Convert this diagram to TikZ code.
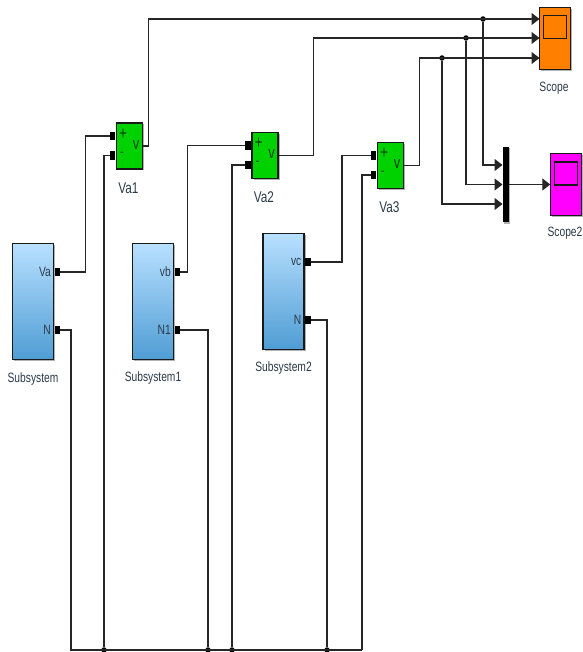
\documentclass[tikz,border=0pt]{standalone}
\usepackage{fontspec}
\usetikzlibrary{arrows.meta,shadows}
\newfontfamily\blockfont[FakeStretch=0.76]{Liberation Sans}
\definecolor{subtop}{HTML}{B8E0FF}
\definecolor{subbot}{HTML}{4F9DD4}
\definecolor{voltgreen}{HTML}{00D200}
\definecolor{scopeorange}{HTML}{FF8000}
\definecolor{scopepink}{HTML}{FF00FF}
\definecolor{inktext}{HTML}{2A3A48}
\tikzset{
    shadowed/.style={drop shadow={shadow xshift=1.5pt,shadow yshift=-1.5pt,opacity=0.3,fill=black}},
    subsys/.style={draw=black!90, line width=1.4pt, top color=subtop, bottom color=subbot, minimum width=41pt, minimum height=116pt, inner sep=0pt, shadowed},
    volt/.style={draw=black!90, line width=1.4pt, fill=voltgreen, minimum width=26pt, minimum height=46pt, inner sep=0pt, shadowed},
    scopebox/.style={draw=black!90, line width=1.4pt, minimum width=31pt, minimum height=62pt, inner sep=0pt, shadowed},
    screen/.style={draw=black!90, line width=1.2pt, minimum width=23pt, minimum height=23pt, inner sep=0pt},
    port/.style={fill=black, minimum width=5.5pt, minimum height=8.5pt, inner sep=0pt},
    dot/.style={circle, fill=black, minimum size=5.5pt, inner sep=0pt},
    wire/.style={draw=black!85, line width=1.2pt},
    feed/.style={wire, -{Triangle[length=8pt,width=12pt]}, shorten >=-0.5pt},
    caption/.style={font=\blockfont\fontsize{13.5}{13.5}\selectfont, text=inktext, inner sep=0pt},
    bigcaption/.style={font=\blockfont\fontsize{15.5}{15.5}\selectfont, text=inktext, inner sep=0pt},
    sign/.style={font=\blockfont\fontsize{14}{14}\selectfont, text=black!70!voltgreen, inner sep=0pt}
}
\begin{document}
\begin{tikzpicture}[x=1pt, y=-1pt]
    \useasboundingbox (0,0) rectangle (582,652);

    % subsystems
    \foreach \n/\x/\y/\top/\bot/\lab/\ty in {0/33/301.5/Va/N/Subsystem/379, 1/153/301.5/vb/N1/Subsystem1/378, 2/283.5/291.5/vc/N/Subsystem2/368} {
        \node[subsys] (sub\n) at (\x,\y) {};
        \node[port] (out\n) at (\x+24.5,\y-29.5) {};
        \node[port] (neu\n) at (\x+24.5,\y+28.5) {};
        \node[caption, anchor=east] (outlab\n) at (\x+18,\y-29.5) {\top};
        \node[caption, anchor=east] (neulab\n) at (\x+18,\y+28.5) {\bot};
        \node[caption] (subcap\n) at (\x,\ty) {\lab};
    }

    % voltage measurements
    \foreach \n/\x/\y/\lab in {1/129.5/146/Va1, 2/265/155.5/Va2, 3/390.5/165.5/Va3} {
        \node[volt] (m\n) at (\x,\y) {};
        \node[port] (plus\n) at (\x-17,\y-10) {};
        \node[port] (minus\n) at (\x-17,\y+9.5) {};
        \node[sign] (ps\n) at (\x-6.5,\y-12) {\fontsize{18}{18}\selectfont +};
        \node[sign] (ms\n) at (\x-7.5,\y+8) {-};
        \node[sign] (vs\n) at (\x+6.5,\y-1) {\fontsize{17}{17}\selectfont v};
        \node[bigcaption] (mcap\n) at (\x-1,\y+42) {\lab};
    }

    % scopes
    \node[scopebox, fill=scopeorange] (scope) at (555,38.5) {};
    \node[screen] (scr) at (555,27) {};
    \node[caption] (scopecap) at (554,88) {Scope};
    \node[scopebox, fill=scopepink] (scope2) at (566,184.5) {};
    \node[screen] (scr2) at (566,173.5) {};
    \node[caption] (scope2cap) at (565,233) {Scope2};
    \node[fill=black, minimum width=6pt, minimum height=75pt, inner sep=0pt, shadowed] (mux) at (505.5,184.5) {};

    % branch points
    \node[dot] (j1) at (483,19) {};
    \node[dot] (j2) at (466,38) {};
    \node[dot] (j3) at (442,58) {};
    \node[dot] (b1) at (104,650) {};
    \node[dot] (b2) at (208,650) {};
    \node[dot] (b3) at (232,650) {};
    \node[dot] (b4) at (327,650) {};
    \coordinate (b0) at (71,650);
    \coordinate (b5) at (362,650);
    \coordinate (in1) at (539,19);
    \coordinate (in2) at (539,38);
    \coordinate (in3) at (539,58);
    \coordinate (mi1) at (502,165);
    \coordinate (mi2) at (502,184.5);
    \coordinate (mi3) at (502,204);

    % Va, vb, vc to the + inputs
    \draw[wire] (out0.east) -- ++(25,0) |- (plus1.west);
    \draw[wire] (out1.east) -- ++(7,0) |- (plus2.west);
    \draw[wire] (out2.east) -- ++(31,0) |- (plus3.west);

    % neutral bus
    \draw[wire] (neu0.east) -| (b0) -- (b5);
    \draw[wire] (neu1.east) -| (b2);
    \draw[wire] (neu2.east) -| (b4);
    \draw[wire] (minus1.west) -| (b1);
    \draw[wire] (minus2.west) -| (b3);
    \draw[wire] (minus3.west) -| (b5);

    % measured signals
    \draw[feed] (m1.east) -- ++(5,0) |- (in1);
    \draw[feed] (m2.east) -- ++(35,0) |- (in2);
    \draw[feed] (m3.east) -- ++(15,0) |- (in3);
    \draw[feed] (j1) |- (mi1);
    \draw[feed] (j2) |- (mi2);
    \draw[feed] (j3) |- (mi3);
    \draw[feed] (mux.east) -- (scope2.west);
\end{tikzpicture}
\end{document}
